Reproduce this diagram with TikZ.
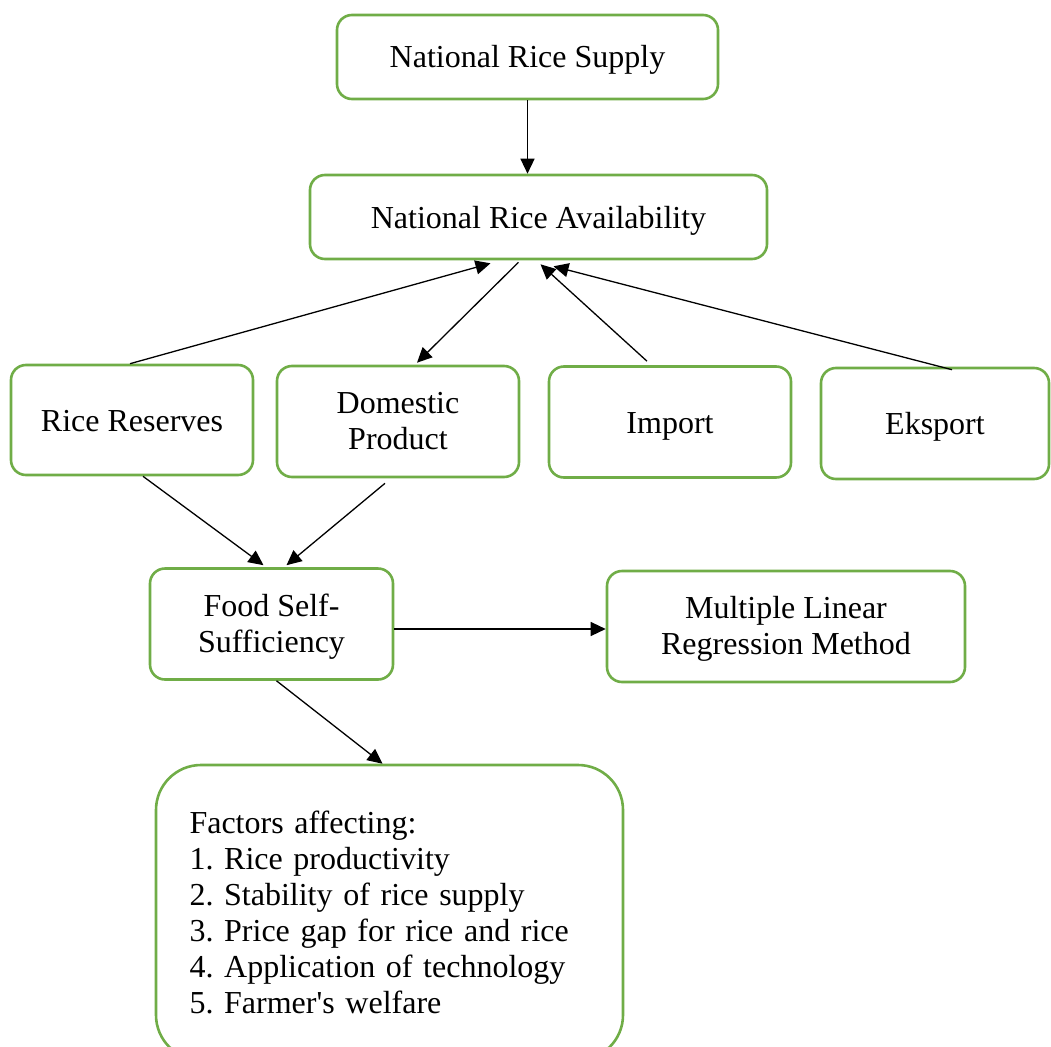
\documentclass[tikz,border=0pt]{standalone}
\usepackage{fontspec}
\setmainfont{Liberation Serif}
\usetikzlibrary{arrows.meta}
\definecolor{boxgreen}{HTML}{70AD47}
\tikzset{
  box/.style={draw=boxgreen, line width=2.6pt, rounded corners=15pt, fill=white,
    align=center, inner sep=0pt, font=\fontsize{32}{36}\selectfont\frenchspacing},
  oneline/.style={text height=24pt, text depth=2pt},
  twoline/.style={text depth=2pt},
  flow/.style={draw=black, line width=1.3pt, -{Triangle[length=15pt,width=14pt]}}
}
\begin{document}
\begin{tikzpicture}[x=1pt,y=1pt]
\useasboundingbox (0,0) rectangle (1051,-1046);
\clip (0,0) rectangle (1051,-1046);

% top chain
\node[box, oneline, minimum width=381pt, minimum height=84pt] (nrs) at (527.5,-57) {National Rice Supply};
\node[box, oneline, minimum width=457pt, minimum height=84pt] (nra) at (538.5,-217) {National Rice Availability};

% components of availability
\node[box, oneline, minimum width=242pt, minimum height=110pt] (rr)  at (132,-420)   {Rice Reserves};
\node[box, twoline, minimum width=242pt, minimum height=111pt] (dp)  at (398,-421.5) {Domestic\\Product};
\node[box, oneline, minimum width=242pt, minimum height=111pt] (imp) at (670,-422)   {Import};
\node[box, oneline, minimum width=228pt, minimum height=111pt] (eks) at (935,-423.5) {Eksport};

% self-sufficiency and method
\node[box, twoline, minimum width=243pt, minimum height=111pt] (fss) at (271.5,-624) {Food Self-\\Sufficiency};
\node[box, twoline, minimum width=358pt, minimum height=111pt] (mlr) at (786,-626.5) {Multiple Linear\\Regression Method};

% factors
\node[box, rounded corners=45pt, minimum width=467pt, minimum height=295pt,
      text width=400pt, align=left] (fac) at (389.5,-912.5)
  {Factors affecting:\\
   1. Rice productivity\\
   2. Stability of rice supply\\
   3. Price gap for rice and rice\\
   4. Application of technology\\
   5. Farmer\textquotesingle s welfare};

% connectors
\draw[flow] (nrs.south) -- (nrs.south |- nra.north);
\draw[flow] ([xshift=-2pt]rr.north) -- ([xshift=-48pt,yshift=-3pt]nra.south);
\draw[flow] ([xshift=-20pt,yshift=-2pt]nra.south) -- ([xshift=19pt,yshift=2pt]dp.north);
\draw[flow] ([xshift=-23pt,yshift=4pt]imp.north) -- ([xshift=2pt,yshift=-4pt]nra.south);
\draw[flow] ([xshift=17pt,yshift=-3pt]eks.north) -- ([xshift=15pt,yshift=-6pt]nra.south);
\draw[flow] ([xshift=11pt]rr.south) -- ([xshift=-8pt,yshift=2pt]fss.north);
\draw[flow] ([xshift=-13pt,yshift=-5pt]dp.south) -- ([xshift=15pt,yshift=2pt]fss.north);
\draw[flow] ([yshift=-5pt]fss.east) -- ([yshift=-2.5pt]mlr.west);
\draw[flow] ([xshift=5pt]fss.south) -- ([xshift=-7pt]fac.north);
\end{tikzpicture}
\end{document}
